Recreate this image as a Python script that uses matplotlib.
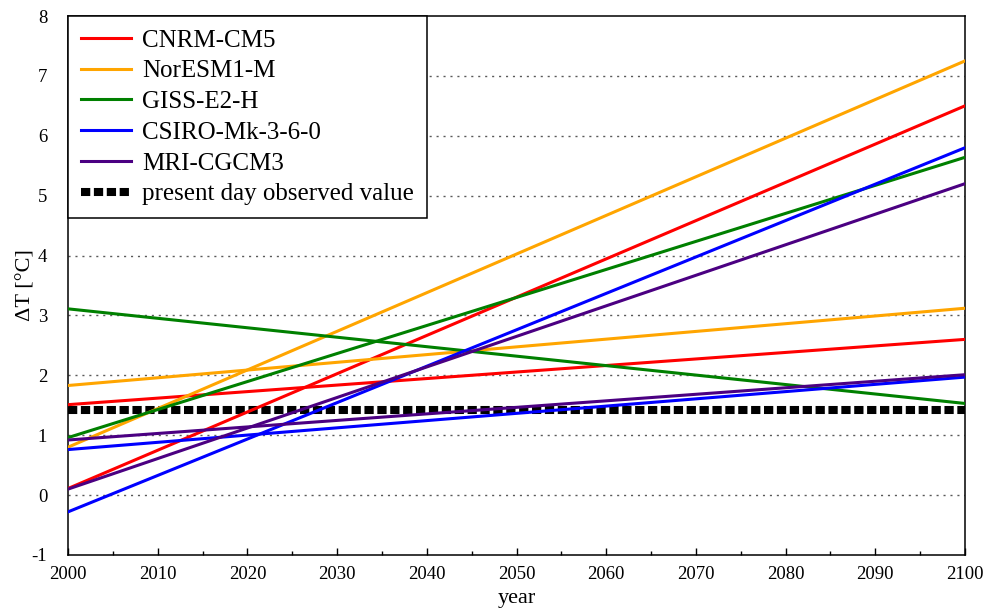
import matplotlib
matplotlib.use("Agg")
import matplotlib.pyplot as plt
from matplotlib.ticker import MultipleLocator

plt.rcParams['font.family'] = ['Liberation Serif', 'DejaVu Serif']
plt.rcParams['axes.unicode_minus'] = False

# linear warming trends, value at 2000 and at 2100
years = [2000, 2100]
models = ["CNRM-CM5", "NorESM1-M", "GISS-E2-H", "CSIRO-Mk-3-6-0", "MRI-CGCM3"]
colors = ["#ff0000", "#ffa500", "#008000", "#0000ff", "#4b0082"]
steep_start = [0.11, 0.80, 0.96, -0.28, 0.10]
steep_end = [6.50, 7.25, 5.64, 5.80, 5.20]
flat_start = [1.51, 1.83, 3.11, 0.76, 0.92]
flat_end = [2.60, 3.12, 1.53, 1.97, 2.01]
observed = 1.42

fig = plt.figure(figsize=(9.89, 6.11), dpi=100)
ax = fig.add_axes([0.0688, 0.0917, 0.9069, 0.8821])

for y in range(0, 8):
    ax.axhline(y, color="0.35", lw=1.0, ls=(0, (1.5, 3.5)), zorder=1)

for name, c, s0, s1, f0, f1 in zip(models, colors, steep_start, steep_end, flat_start, flat_end):
    ax.plot(years, [s0, s1], color=c, lw=2.2, label=name, zorder=3)
    ax.plot(years, [f0, f1], color=c, lw=2.2, zorder=3)

ax.plot(years, [observed, observed], color="black", lw=5.8, ls=(0, (1.15, 0.45)),
        solid_capstyle="butt", dash_capstyle="butt", label="present day observed value", zorder=2)

ax.set_xlim(2000, 2100)
ax.set_ylim(-1, 8)
ax.xaxis.set_major_locator(MultipleLocator(10))
ax.xaxis.set_minor_locator(MultipleLocator(5))
ax.yaxis.set_major_locator(MultipleLocator(1))
ax.tick_params(axis="x", which="major", direction="in", length=5, width=1, labelsize=13.5, pad=8)
ax.tick_params(axis="x", which="minor", direction="in", length=3, width=1)
ax.tick_params(axis="y", which="major", direction="in", length=0, labelsize=13.5, pad=15)
for sp in ax.spines.values():
    sp.set_linewidth(1.1)

ax.set_xlabel("year", fontsize=16, labelpad=4)
ax.set_ylabel("ΔT [°C]", fontsize=16, labelpad=-2.5)

leg = ax.legend(loc="upper left", bbox_to_anchor=(0, 1), borderaxespad=0, fontsize=18,
                fancybox=False, edgecolor="black", framealpha=1, handlelength=2.0,
                handletextpad=0.45, labelspacing=0.33, borderpad=0.52)
leg.get_frame().set_linewidth(1.1)
leg.set_zorder(5)

fig.savefig("out.png", dpi=100)
